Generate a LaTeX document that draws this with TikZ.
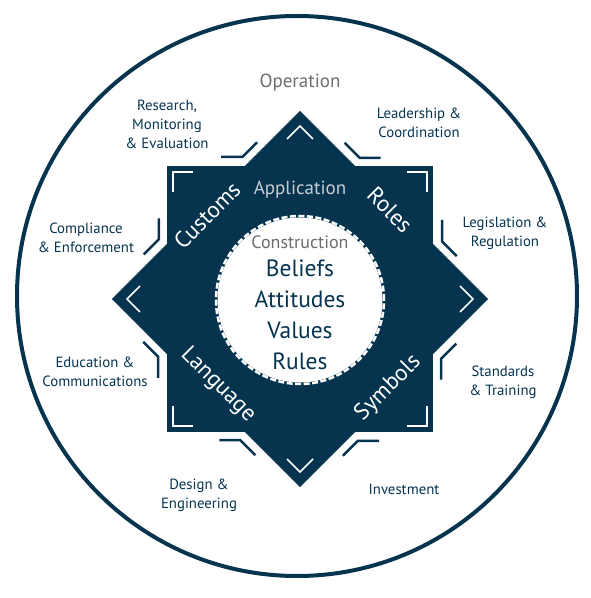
\documentclass[tikz,border=0pt]{standalone}
\usepackage{fontspec}
\setmainfont{PT Sans}

\definecolor{navy}{HTML}{06344F}
\definecolor{opgray}{HTML}{6E6E6E}
\definecolor{appgray}{HTML}{C8CDD2}

\tikzset{
  area/.style={text=navy, align=center, font=\fontsize{14.8}{19}\selectfont},
  core/.style={text=navy, font=\fontsize{23.5}{30}\selectfont},
  stage/.style={font=\fontsize{19}{22}\selectfont},
  starword/.style={text=white, font=\fontsize{23}{26}\selectfont},
  notch/.style={draw=navy, line width=2.5pt},
  tick/.style={draw=white, line width=1.6pt},
}

\begin{document}
\begin{tikzpicture}[x=1pt,y=1pt]
	\useasboundingbox (0,0) rectangle (590,598);

	% Outer ring
	\draw[navy, line width=4pt] (297,302) circle (280);

	% Star
	\begin{scope}[shift={(300,299)}]
		\fill[navy] (-133,-133) rectangle (133,133);
		\fill[navy, rotate=45] (-133,-133) rectangle (133,133);

		% Corner ticks
		\foreach \a in {0,90,180,270}
			\draw[tick, rotate=\a] (127,107) -- (127,127) -- (107,127);

		% Tip chevrons
		\foreach \a in {0,90,180,270}
			\draw[tick, rotate=\a] (-13,160) -- (0,173) -- (13,160);

		% Notch marks
		\foreach \a in {0,45,...,315}
			\draw[notch, rotate=\a] (-79,142) -- (-57.7,142) -- (-42.9,156.8);

		% Core
		\fill[white] (0,-1) circle (82.5);
		\draw[white, line width=2.5pt, dash pattern=on 6pt off 2.5pt] (0,-1) circle (84);
	\end{scope}

	% Star words
	\node[starword, rotate=45]  (customs)  at (207,383) {Customs};
	\node[starword, rotate=-45] (roles)    at (390,388) {Roles};
	\node[starword, rotate=-45] (language) at (218,213) {Language};
	\node[starword, rotate=45]  (symbols)  at (388,210) {Symbols};
	\node[stage, text=appgray]  (application)  at (300,408) {Application};
	\node[stage, text=opgray, font=\fontsize{18}{22}\selectfont] (construction) at (300,356) {Construction};

	% Core values
	\node[core] (beliefs)   at (300,330) {Beliefs};
	\node[core] (attitudes) at (300,299) {Attitudes};
	\node[core] (values)    at (300,268) {Values};
	\node[core] (rules)     at (300,237) {Rules};

	% Operation areas
	\node[stage, text=opgray] (operation) at (300,515) {Operation};
	\node[area] (research)    at (167,474) {Research,\\Monitoring\\\& Evaluation};
	\node[area] (leadership)  at (419,475) {Leadership \&\\Coordination};
	\node[area] (compliance)  at (86,360)  {Compliance\\\& Enforcement};
	\node[area] (legislation) at (505,365) {Legislation \&\\Regulation};
	\node[area] (education)   at (95,226)  {Education \&\\Communications};
	\node[area] (standards)   at (503,216) {Standards\\\& Training};
	\node[area] (design)      at (199,103) {Design \&\\Engineering};
	\node[area] (investment)  at (404,109) {Investment};

\end{tikzpicture}
\end{document}
